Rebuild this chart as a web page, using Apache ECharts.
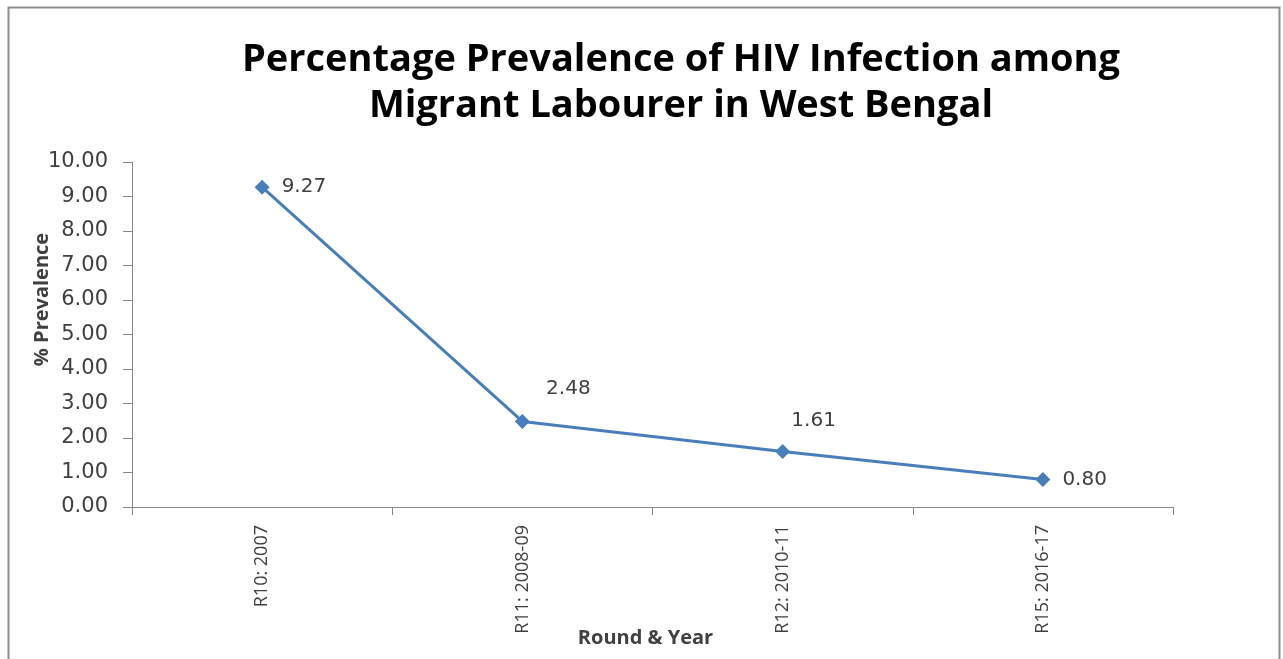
<!DOCTYPE html>
<html>
<head>
<meta charset="utf-8">
<script src="https://cdn.jsdelivr.net/npm/echarts@6/dist/echarts.min.js"></script>
<style>
  html, body { margin: 0; padding: 0; background: #fff; }
  #chart { width: 1283px; height: 659px; }
</style>
</head>
<body>
<div id="chart"></div>
<script>
var categories = ['R10: 2007', 'R11: 2008-09', 'R12: 2010-11', 'R15: 2016-17']
var prevalence = [9.27, 2.48, 1.61, 0.80]
var yTicks = { min: 0, max: 10, interval: 1 }

var lineColor = '#4a7ebb'
var textColor = '#404040'
var titleFont = '"Open Sans", Lato, sans-serif'
var numFont = '"DejaVu Sans", Verdana, sans-serif'

// label placement per point, like the original
var labelPlaces = [
  { position: 'right', distance: 12 },
  { position: 'top', offset: [46, -10] },
  { position: 'top', offset: [31, -8] },
  { position: 'right', distance: 12 }
]

var seriesData = prevalence.map(function(v, i) {
  return { value: v, label: labelPlaces[i] }
})

var chart = echarts.init(document.getElementById('chart'))
chart.setOption({
  animation: false,
  graphic: [{
    type: 'rect',
    shape: { x: 8.5, y: 7.5, width: 1271, height: 660 },
    style: { fill: 'none', stroke: '#8c8c8c', lineWidth: 2 },
    silent: true
  }],
  title: {
    text: 'Percentage Prevalence of HIV Infection among\nMigrant Labourer in West Bengal',
    left: 676,
    textAlign: 'center',
    top: 32,
    textStyle: {
      fontFamily: titleFont,
      fontWeight: 'bold',
      fontSize: 38,
      lineHeight: 46,
      color: '#000'
    }
  },
  grid: {
    left: 132,
    right: 110,
    top: 162,
    bottom: 152,
    containLabel: false,
    outerBoundsMode: 'none'
  },
  xAxis: {
    type: 'category',
    data: categories,
    boundaryGap: true,
    name: 'Round & Year',
    nameLocation: 'middle',
    nameGap: 121,
    nameMoveOverlap: false,
    nameTextStyle: { fontFamily: titleFont, fontWeight: 'bold', fontSize: 20, color: textColor, padding: [0, 14, 0, 0] },
    axisLine: { lineStyle: { color: '#888', width: 1 } },
    axisTick: { show: true, length: 8, lineStyle: { color: '#888' } },
    axisLabel: { rotate: 90, margin: 18, fontFamily: titleFont, fontSize: 18, color: textColor },
    splitLine: { show: false }
  },
  yAxis: {
    type: 'value',
    min: yTicks.min,
    max: yTicks.max,
    interval: yTicks.interval,
    name: '% Prevalence',
    nameLocation: 'middle',
    nameGap: 80,
    nameMoveOverlap: false,
    nameTextStyle: { fontFamily: titleFont, fontWeight: 'bold', fontSize: 20, color: textColor, padding: [0, 0, 0, 70] },
    axisLine: { show: true, lineStyle: { color: '#888', width: 1 } },
    axisTick: { show: true, length: 9, lineStyle: { color: '#888' } },
    axisLabel: {
      margin: 24,
      fontFamily: numFont,
      fontSize: 21,
      color: textColor,
      formatter: function(v) { return v.toFixed(2) }
    },
    splitLine: { show: false }
  },
  series: [{
    type: 'line',
    data: seriesData,
    symbol: 'diamond',
    symbolSize: 15,
    lineStyle: { color: lineColor, width: 3 },
    itemStyle: { color: lineColor },
    label: {
      show: true,
      fontFamily: numFont,
      fontSize: 20,
      color: textColor,
      formatter: function(p) { return p.value.toFixed(2) }
    }
  }]
})
</script>
</body>
</html>
